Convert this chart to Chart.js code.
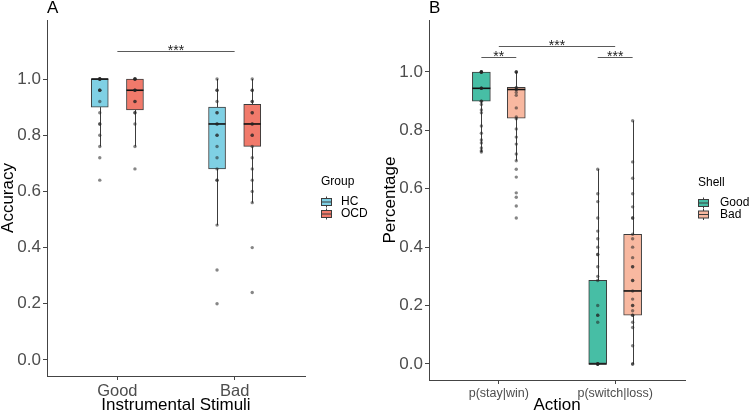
<!DOCTYPE html>
<html><head><meta charset="utf-8">
<script src="https://cdn.jsdelivr.net/npm/chart.js@4.4.0/dist/chart.umd.min.js"></script>
<style>
html,body{margin:0;padding:0;background:#fff;}
#wrap{position:relative;width:750px;height:413px;overflow:hidden;background:#fff;}
canvas{position:absolute;top:0;}
#cA{left:0;} #cB{left:375px;}
</style></head><body>
<div id="wrap"><canvas id="cA" width="375" height="413"></canvas><canvas id="cB" width="375" height="413"></canvas></div>
<script>
// ---------- Panel A : Accuracy by instrumental stimuli ----------
const stimuliCategories = ['Good', 'Bad'];
const accuracyTicks = [0.0, 0.2, 0.4, 0.6, 0.8, 1.0];

const hcGoodPoints  = [1,1,1,1,1,0.96,0.96,0.96,0.92,0.88,0.84,0.84,0.80,0.76,0.72,0.64];
const hcBadPoints   = [1,0.96,0.96,0.92,0.88,0.88,0.84,0.84,0.80,0.80,0.76,0.72,0.68,0.64,0.64,0.48,0.32,0.20];
const ocdGoodPoints = [1,1,1,1,0.96,0.96,0.96,0.92,0.92,0.88,0.88,0.84,0.76,0.68];
const ocdBadPoints  = [1,0.96,0.96,0.92,0.92,0.88,0.88,0.84,0.84,0.80,0.80,0.76,0.72,0.68,0.64,0.60,0.56,0.40,0.24];

// box statistics per category [Good, Bad]
const hcLow    = [0.76, 0.48];
const hcQ1     = [0.90, 0.68];
const hcMedian = [1.00, 0.84];
const hcQ3     = [1.00, 0.90];
const hcHigh   = [1.00, 1.00];
const ocdLow    = [0.76, 0.56];
const ocdQ1     = [0.89, 0.76];
const ocdMedian = [0.96, 0.84];
const ocdQ3     = [1.00, 0.91];
const ocdHigh   = [1.00, 1.00];

// ---------- Panel B : Percentage by action ----------
const actionCategories = ['p(stay|win)', 'p(switch|loss)'];
const percentageTicks = [0.0, 0.2, 0.4, 0.6, 0.8, 1.0];

const goodStayPoints   = [1,1,1,1,1,0.944,0.944,0.944,0.9,0.9,0.889,0.87,0.86,0.815,0.79,0.767,0.757,0.74,0.73,0.726];
const goodSwitchPoints = [0.667,0.583,0.556,0.5,0.455,0.429,0.4,0.375,0.375,0.333,0.3,0.286,0.2,0.167,0.167,0.143,0,0,0,0,0];
const badStayPoints    = [1,1,1,0.947,0.94,0.94,0.93,0.92,0.877,0.846,0.84,0.805,0.777,0.753,0.719,0.696,0.667,0.64,0.586,0.571,0.541,0.5];
const badSwitchPoints  = [0.833,0.692,0.636,0.583,0.538,0.5,0.5,0.444,0.429,0.4,0.364,0.333,0.333,0.286,0.286,0.25,0.222,0.2,0.2,0.182,0.167,0.167,0.143,0.125,0.0625,0,0];

const goodLow    = [0.726, 0.000];
const goodQ1     = [0.900, 0.000];
const goodMedian = [0.944, 0.000];
const goodQ3     = [1.000, 0.286];
const goodHigh   = [1.000, 0.667];
const badLow    = [0.696, 0.000];
const badQ1     = [0.842, 0.167];
const badMedian = [0.940, 0.250];
const badQ3     = [0.947, 0.444];
const badHigh   = [1.000, 0.833];

const FONT = "'Liberation Sans', Arial, Helvetica, sans-serif";

function makePlugin(c) {
  return {
    id: 'boxExtras',
    beforeDatasetsDraw(chart) {
      const ctx = chart.ctx, xs = chart.scales.x, ys = chart.scales.y;
      ctx.save();
      ctx.strokeStyle = '#3c3c3c'; ctx.lineWidth = 1;
      c.groups.forEach(g => c.categories.forEach((cat, ci) => {
        const px = Math.round(xs.getPixelForValue(ci + 1 + g.dodge)) + 0.5;
        ctx.beginPath();
        ctx.moveTo(px, ys.getPixelForValue(g.hi[ci])); ctx.lineTo(px, ys.getPixelForValue(g.q3[ci]));
        ctx.moveTo(px, ys.getPixelForValue(g.q1[ci])); ctx.lineTo(px, ys.getPixelForValue(g.lo[ci]));
        ctx.stroke();
      }));
      ctx.restore();
    },
    afterDatasetDraw(chart, args) {
      const ds = chart.data.datasets[args.index];
      if (ds.type !== 'bar') return;
      const g = c.groups[ds.boxGroup];
      const ys = chart.scales.y, ctx = chart.ctx;
      ctx.save();
      ctx.strokeStyle = '#111'; ctx.lineWidth = 1.6;
      args.meta.data.forEach((el, ci) => {
        const py = ys.getPixelForValue(g.med[ci]);
        ctx.beginPath(); ctx.moveTo(el.x - el.width / 2, py); ctx.lineTo(el.x + el.width / 2, py); ctx.stroke();
      });
      ctx.restore();
    },
    afterDraw(chart) {
      const ctx = chart.ctx, xs = chart.scales.x, ys = chart.scales.y;
      ctx.save();
      // significance brackets
      c.sig.forEach(s => {
        const x1 = xs.getPixelForValue(s.x1), x2 = xs.getPixelForValue(s.x2);
        const py = Math.round(ys.getPixelForValue(s.y)) + 0.5;
        ctx.strokeStyle = '#5a5a5a'; ctx.lineWidth = 1;
        ctx.beginPath(); ctx.moveTo(x1, py); ctx.lineTo(x2, py); ctx.stroke();
        ctx.fillStyle = '#222'; ctx.font = '14px ' + FONT;
        ctx.textAlign = 'center'; ctx.textBaseline = 'alphabetic';
        ctx.fillText(s.label, (x1 + x2) / 2, py + 3);
      });
      // panel label
      ctx.fillStyle = '#000'; ctx.font = '17px ' + FONT; ctx.textAlign = 'left'; ctx.textBaseline = 'alphabetic';
      ctx.fillText(c.panelLabel, chart.chartArea.left, 13);
      // legend
      const L = c.legend;
      ctx.font = '12px ' + FONT; ctx.fillStyle = '#000'; ctx.textBaseline = 'middle';
      ctx.fillText(L.title, L.x, L.titleY);
      c.groups.forEach((g, gi) => {
        const cy = L.firstY + gi * L.step;
        const kx = L.x, kw = 11;
        ctx.strokeStyle = '#3c3c3c'; ctx.lineWidth = 1;
        ctx.beginPath();
        ctx.moveTo(kx + kw / 2, cy - 5.5); ctx.lineTo(kx + kw / 2, cy + 5.5); ctx.stroke();
        ctx.fillStyle = g.color;
        ctx.fillRect(kx, cy - 3.5, kw, 7);
        ctx.strokeRect(kx + 0.5, cy - 3.5, kw - 1, 7);
        ctx.beginPath(); ctx.moveTo(kx, cy); ctx.lineTo(kx + kw, cy); ctx.stroke();
        ctx.fillStyle = '#000';
        ctx.fillText(g.name, L.textX, cy);
      });
      ctx.restore();
    }
  };
}

function makePanel(id, c) {
  const datasets = [];
  c.groups.forEach((g, gi) => {
    const pts = [];
    c.categories.forEach((cat, ci) => g.points[ci].forEach(v => pts.push({ x: ci + 1 + g.dodge, y: v })));
    datasets.push({
      type: 'scatter', data: pts, pointRadius: 1.7, pointHoverRadius: 1.7,
      pointBackgroundColor: 'rgba(35,35,35,0.55)', pointBorderWidth: 0, order: 0
    });
  });
  c.groups.forEach((g, gi) => {
    datasets.push({
      type: 'bar', boxGroup: gi,
      data: c.categories.map((cat, ci) => ({ x: ci + 1 + g.dodge, y: [g.q1[ci], g.q3[ci]] })),
      backgroundColor: g.color, borderColor: '#3c3c3c', borderWidth: 1, borderSkipped: false,
      barThickness: c.boxWidth, grouped: false, order: 2
    });
  });
  return new Chart(document.getElementById(id), {
    type: 'bar',
    data: { datasets },
    options: {
      responsive: false, animation: false, devicePixelRatio: 1,
      layout: { padding: { left: 0, right: c.padRight, top: 20, bottom: 0 } },
      plugins: { legend: { display: false }, tooltip: { enabled: false } },
      scales: {
        x: {
          type: 'linear', min: 0.4, max: 2.6, offset: false,
          afterBuildTicks: s => { s.ticks = c.categories.map((_, i) => ({ value: i + 1 })); },
          afterFit: s => { s.height = c.xAxisHeight; },
          ticks: { callback: v => c.categories[Math.round(v) - 1], color: '#4d4d4d',
                   font: { family: FONT, size: c.xTickSize }, padding: 2, maxRotation: 0, autoSkip: false },
          grid: { offset: false, drawOnChartArea: false, drawTicks: true, tickLength: 4, tickColor: '#444' },
          border: { display: true, color: '#444', width: 1 },
          title: { display: true, text: c.xTitle, color: '#000', font: { family: FONT, size: 17 },
                   padding: { top: 0, bottom: c.xTitlePad } }
        },
        y: {
          type: 'linear', min: c.yMin, max: c.yMax,
          afterBuildTicks: s => { s.ticks = c.yTicks.map(v => ({ value: v })); },
          afterFit: s => { s.width = c.yAxisWidth; },
          ticks: { callback: v => Number(v).toFixed(1), color: '#4d4d4d', font: { family: FONT, size: 17 }, padding: 2 },
          grid: { offset: false, drawOnChartArea: false, drawTicks: true, tickLength: 4, tickColor: '#444' },
          border: { display: true, color: '#444', width: 1 },
          title: { display: true, text: c.yTitle, color: '#000', font: { family: FONT, size: 17 },
                   padding: { top: c.yTitlePad, bottom: 0 } }
        }
      }
    },
    plugins: [makePlugin(c)]
  });
}

makePanel('cA', {
  panelLabel: 'A', categories: stimuliCategories, yTicks: accuracyTicks,
  yMin: -0.057, yMax: 1.21, padRight: 70, yAxisWidth: 47, xAxisHeight: 37,
  xTickSize: 16.5, xTitle: 'Instrumental Stimuli', yTitle: 'Accuracy', xTitlePad: -3, yTitlePad: -2,
  boxWidth: 17,
  groups: [
    { name: 'HC', color: '#7fd0e4', dodge: -0.15, points: [hcGoodPoints, hcBadPoints],
      lo: hcLow, q1: hcQ1, med: hcMedian, q3: hcQ3, hi: hcHigh },
    { name: 'OCD', color: '#f17a6b', dodge: 0.15, points: [ocdGoodPoints, ocdBadPoints],
      lo: ocdLow, q1: ocdQ1, med: ocdMedian, q3: ocdQ3, hi: ocdHigh }
  ],
  sig: [{ x1: 1, x2: 2, y: 1.10, label: '***' }],
  legend: { title: 'Group', x: 321, titleY: 182, firstY: 202, step: 12, textX: 341 }
});

makePanel('cB', {
  panelLabel: 'B', categories: actionCategories, yTicks: percentageTicks,
  yMin: -0.055, yMax: 1.178, padRight: 65, yAxisWidth: 54, xAxisHeight: 33,
  xTickSize: 12.5, xTitle: 'Action', yTitle: 'Percentage', xTitlePad: -3, yTitlePad: 5,
  boxWidth: 18,
  groups: [
    { name: 'Good', color: '#47bea5', dodge: -0.15, points: [goodStayPoints, goodSwitchPoints],
      lo: goodLow, q1: goodQ1, med: goodMedian, q3: goodQ3, hi: goodHigh },
    { name: 'Bad', color: '#f8b8a0', dodge: 0.15, points: [badStayPoints, badSwitchPoints],
      lo: badLow, q1: badQ1, med: badMedian, q3: badQ3, hi: badHigh }
  ],
  sig: [
    { x1: 0.85, x2: 1.15, y: 1.051, label: '**' },
    { x1: 1.0, x2: 2.0, y: 1.089, label: '***' },
    { x1: 1.85, x2: 2.15, y: 1.051, label: '***' }
  ],
  legend: { title: 'Shell', x: 323, titleY: 183, firstY: 203, step: 11.5, textX: 345 }
});
</script>
</body></html>
